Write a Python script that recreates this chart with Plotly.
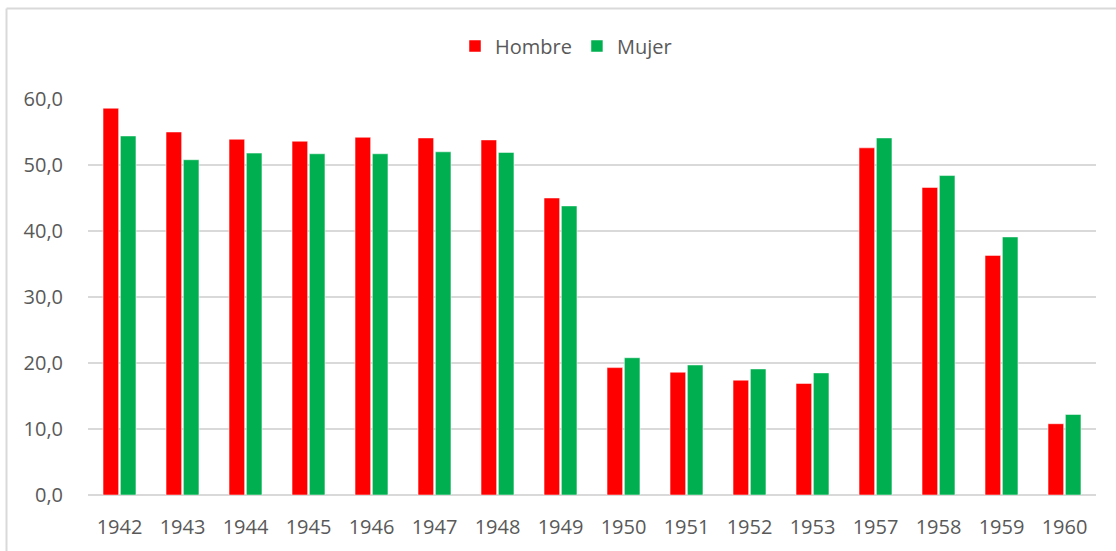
import plotly.graph_objects as go

years = ["1942", "1943", "1944", "1945", "1946", "1947", "1948", "1949",
         "1950", "1951", "1952", "1953", "1957", "1958", "1959", "1960"]
hombre = [58.6, 55.0, 53.9, 53.6, 54.2, 54.1, 53.8, 45.0,
          19.3, 18.6, 17.4, 16.9, 52.6, 46.6, 36.3, 10.8]
mujer = [54.4, 50.8, 51.8, 51.7, 51.7, 52.0, 51.9, 43.8,
         20.8, 19.7, 19.1, 18.5, 54.1, 48.4, 39.1, 12.2]
tick_vals = [0, 10, 20, 30, 40, 50, 60]
tick_text = ["0,0", "10,0", "20,0", "30,0", "40,0", "50,0", "60,0"]

W, H = 1116, 551
ML, MR, MT, MB = 88, 20, 99, 56
PW, PH = W - ML - MR, H - MT - MB

def px_x(p):
    return (p - ML) / PW

def px_y(p):
    return (H - MB - p) / PH

fig = go.Figure()
fig.add_trace(go.Bar(name="Hombre", x=years, y=hombre,
                     marker=dict(color="#FF0000", line=dict(color="white", width=0.5))))
fig.add_trace(go.Bar(name="Mujer", x=years, y=mujer,
                     marker=dict(color="#00B050", line=dict(color="white", width=0.5))))

font = dict(family="Open Sans", size=20, color="#595959")

fig.update_layout(
    width=W, height=H,
    margin=dict(l=ML, r=MR, t=MT, b=MB, pad=0),
    paper_bgcolor="white", plot_bgcolor="white",
    barmode="group", bargap=0.45, bargroupgap=0.1,
    font=font,
    showlegend=True,
    legend=dict(orientation="h", x=px_x(566), xanchor="center",
                y=px_y(46), yanchor="middle", font=font,
                itemwidth=30, traceorder="normal"),
    xaxis=dict(showgrid=False, showline=False, ticks="outside", ticklen=14,
               tickcolor="rgba(0,0,0,0)", tickfont=font),
    yaxis=dict(range=[0, 60], tickvals=tick_vals, ticktext=tick_text,
               showgrid=True, gridcolor="#D9D9D9", gridwidth=1.8,
               zeroline=True, zerolinecolor="#D9D9D9", zerolinewidth=1.8,
               showline=False, ticks="outside", ticklen=20,
               tickcolor="rgba(0,0,0,0)", tickfont=font),
    shapes=[
        dict(type="line", xref="paper", yref="paper",
             x0=px_x(6.5), x1=px_x(1120), y0=px_y(8.5), y1=px_y(8.5),
             line=dict(color="#D9D9D9", width=2)),
        dict(type="line", xref="paper", yref="paper",
             x0=px_x(6.5), x1=px_x(6.5), y0=px_y(8.5), y1=px_y(560),
             line=dict(color="#D9D9D9", width=2)),
    ],
)

fig.write_html("out.html",
               config={"displayModeBar": False},
               post_script="document.body.style.margin='0';document.body.style.overflow='hidden';")
